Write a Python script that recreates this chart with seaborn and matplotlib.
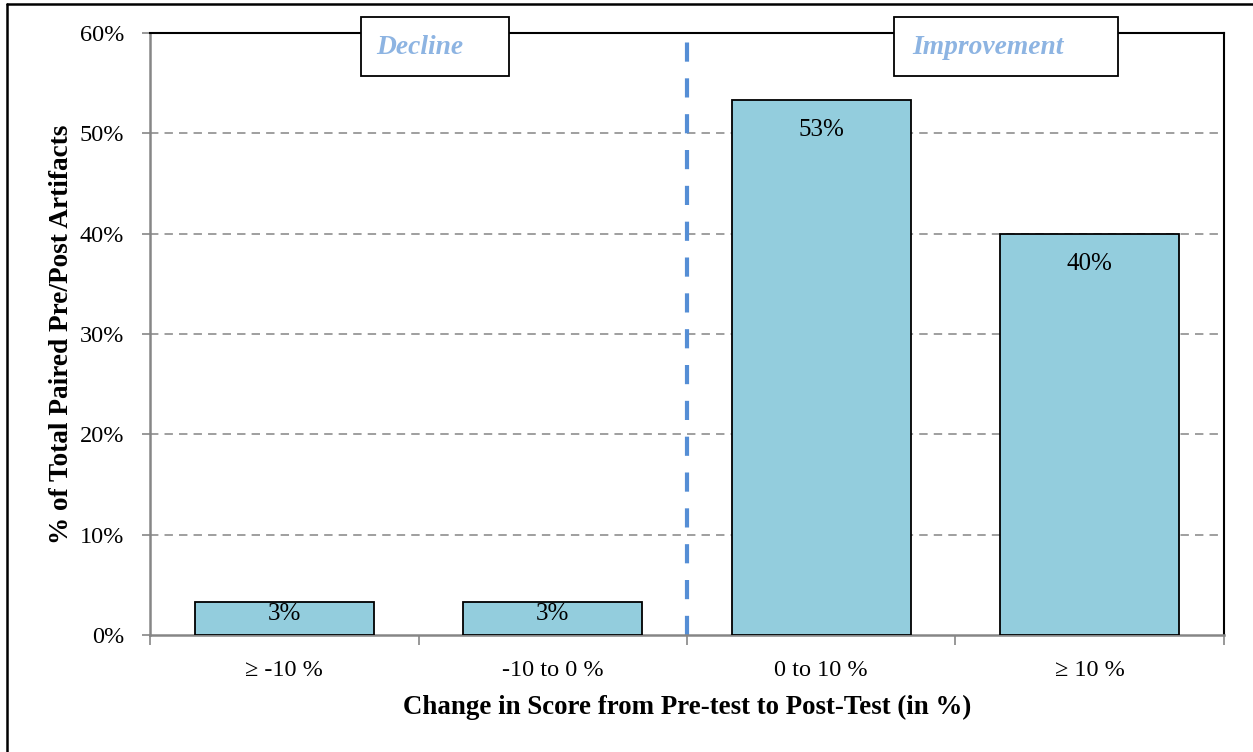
import matplotlib
matplotlib.use("Agg")
import matplotlib.pyplot as plt
from matplotlib.patches import Rectangle
from matplotlib.lines import Line2D
from matplotlib.ticker import FixedLocator, FuncFormatter
import seaborn as sns
import pandas as pd

# Share of paired pre/post artifacts by score change bucket
categories = ["\u2265 -10 %", "-10 to 0 %", "0 to 10 %", "\u2265 10 %"]
shares = [3.33, 3.33, 53.33, 40.0]
bar_labels = ["3%", "3%", "53%", "40%"]
y_ticks = [0, 10, 20, 30, 40, 50, 60]

sns.set_theme(style="white")
plt.rcParams["font.family"] = ["Liberation Serif", "DejaVu Serif"]
plt.rcParams["text.color"] = "black"
plt.rcParams["axes.labelcolor"] = "black"
plt.rcParams["xtick.color"] = "black"
plt.rcParams["ytick.color"] = "black"

W, H = 1253, 752
fig = plt.figure(figsize=(W / 100, H / 100), dpi=100)
ax = fig.add_axes([150 / W, 1 - 635 / H, (1224 - 150) / W, (635 - 33) / H])

df = pd.DataFrame({"bucket": categories, "share": shares})
sns.barplot(data=df, x="bucket", y="share", color="#93CDDD", saturation=1,
            edgecolor="black", linewidth=1.3, width=0.667, ax=ax, zorder=3)

ax.set_xlim(-0.5, 3.5)
ax.set_ylim(0, 60)

# y axis: percent ticks with dashed gridlines
ax.yaxis.set_major_locator(FixedLocator(y_ticks))
ax.yaxis.set_major_formatter(FuncFormatter(lambda v, _: f"{v:.0f}%"))
ax.tick_params(axis="y", which="major", length=6, width=1.2, color="#868686",
               labelcolor="black", direction="out", left=True, labelsize=17.5,
               pad=12.5)
for t in y_ticks[1:-1]:
    ax.axhline(t, color="#858585", lw=1.1, ls=(0, (5.5, 4)), zorder=1)

# x axis: tick marks between categories, labels centered under bars
ax.set_xticks([-0.5, 0.5, 1.5, 2.5, 3.5])
ax.set_xticklabels([])
ax.set_xticks(range(len(categories)), minor=True)
ax.set_xticklabels(categories, minor=True)
ax.tick_params(axis="x", which="major", length=7, width=1.2, color="#868686",
               direction="out", bottom=True)
ax.tick_params(axis="x", which="minor", length=0, labelsize=17.5, pad=18,
               labelcolor="black")

for side in ["left", "bottom"]:
    ax.spines[side].set_color("#868686")
    ax.spines[side].set_linewidth(1.8)
for side in ["top", "right"]:
    ax.spines[side].set_color("black")
    ax.spines[side].set_linewidth(1.5)
    ax.spines[side].set_visible(True)

ax.set_xlabel("Change in Score from Pre-test to Post-Test (in %)",
              fontsize=19.4, fontweight="bold", labelpad=10)
ax.set_ylabel("% of Total Paired Pre/Post Artifacts",
              fontsize=19.6, fontweight="bold", labelpad=4)

# value labels just inside the top of each bar
for i, (v, lab) in enumerate(zip(shares, bar_labels)):
    y = v - 3.0 if v > 10 else v - 1.2
    ax.text(i, y, lab, ha="center", va="center", fontsize=18,
            color="black", zorder=4)

# divider between decline and improvement
ax.axvline(1.5, ymin=0, ymax=0.99, color="#558ED5", lw=3.0,
           ls=(0, (4.6, 4.0)), zorder=2)

# section header boxes
for x0, x1, xc, label in [(361, 509, 420, "Decline"),
                          (894, 1118, 988, "Improvement")]:
    fig.add_artist(Rectangle((x0 / W, 1 - 76 / H), (x1 - x0) / W, 59 / H,
                             transform=fig.transFigure, facecolor="white",
                             edgecolor="black", lw=1.3, zorder=10))
    fig.text(xc / W, 1 - 47 / H, label, ha="center",
             va="center", fontsize=19.8, fontweight="bold", style="italic",
             color="#8DB4E2", zorder=11)

# outer frame of the figure
fig.add_artist(Line2D([6.5 / W, 6.5 / W], [0, 1 - 4 / H], transform=fig.transFigure,
                      color="black", lw=1.8))
fig.add_artist(Line2D([6.5 / W, 1], [1 - 4 / H, 1 - 4 / H], transform=fig.transFigure,
                      color="black", lw=1.8))

fig.savefig("out.png", dpi=100)
